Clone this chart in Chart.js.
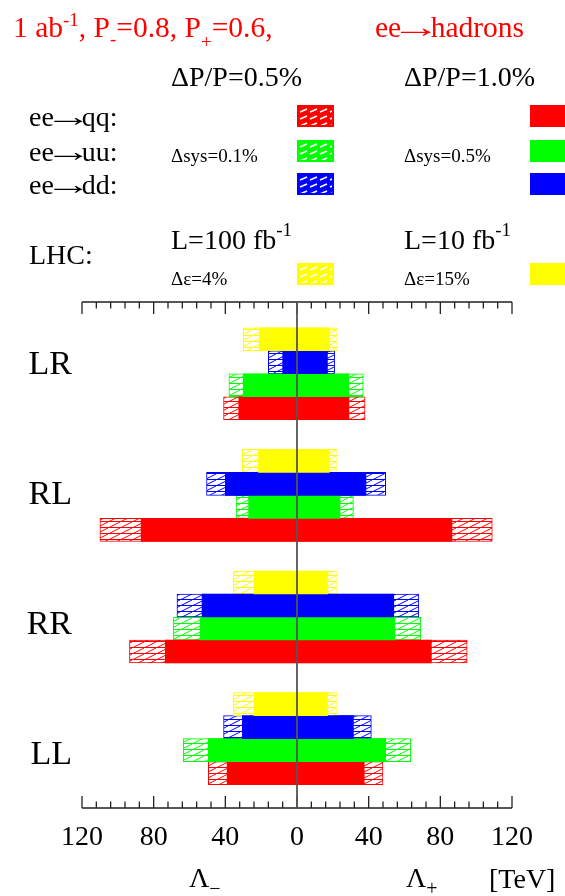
<!DOCTYPE html>
<html>
<head>
<meta charset="utf-8">
<title>Contact interaction reach</title>
<script src="https://cdn.jsdelivr.net/npm/chart.js@4.4.1/dist/chart.umd.min.js"></script>
<style>
    html, body { margin: 0; padding: 0; background: #fff; }
    #wrap { position: relative; width: 565px; height: 896px; overflow: hidden;
            font-family: "Liberation Serif", "Times New Roman", serif; }
    #wrap canvas { position: absolute; left: 0; top: 0; }
    .t { position: absolute; white-space: nowrap; line-height: 1; color: #000; }
    .big { font-size: 28px; }
    .title { font-size: 29.5px; }
    .small { font-size: 19px; }
    .red { color: #f00; }
    .up, .dn { position: relative; font-size: 19px; }
    .arr { display: inline-block; transform: scaleX(1.7); }
    .sw { position: absolute; box-sizing: border-box; width: 37px; height: 22px; }
</style>
</head>
<body>
<div id="wrap">
    <canvas id="chart" width="565" height="896"></canvas>

    <div class="t title red" style="left:13px; top:13px">1 ab<span class="up" style="top:-11px">-1</span>, P<span class="dn" style="top:8px">-</span>=0.8, P<span class="dn" style="top:11px">+</span>=0.6,</div>
    <div class="t title red" style="left:375px; top:13px">ee<span class="arr">→</span>hadrons</div>

    <div class="t big" style="left:171px; top:62.5px">ΔP/P=0.5%</div>
    <div class="t big" style="left:404px; top:62.5px">ΔP/P=1.0%</div>

    <div class="t big" style="left:29px; top:102.5px">ee<span class="arr">→</span>qq:</div>
    <div class="t big" style="left:29px; top:137.5px">ee<span class="arr">→</span>uu:</div>
    <div class="t big" style="left:29px; top:171px">ee<span class="arr">→</span>dd:</div>
    <div class="t small" style="left:171px; top:146px">Δsys=0.1%</div>
    <div class="t small" style="left:404px; top:146px">Δsys=0.5%</div>

    <div class="t big" style="left:29px; top:240.5px">LHC:</div>
    <div class="t big" style="left:171px; top:226px">L=100 fb<span class="up" style="top:-13px">-1</span></div>
    <div class="t big" style="left:404px; top:226px">L=10 fb<span class="up" style="top:-13px">-1</span></div>
    <div class="t small" style="left:171px; top:268.5px">Δε=4%</div>
    <div class="t small" style="left:404px; top:268.5px">Δε=15%</div>

    <div class="t big" style="left:189px; top:863.5px">Λ<span class="dn" style="top:8px; font-size:20px">−</span></div>
    <div class="t big" style="left:406px; top:863.5px">Λ<span class="dn" style="top:8px; font-size:20px">+</span></div>
    <div class="t big" style="left:489px; top:864.5px">[TeV]</div>

    <div id="swatches"></div>
</div>

<script>
// Helicity combinations, top to bottom
const groups = ['LR', 'RL', 'RR', 'LL'];

// Reach in TeV: Minus = Λ- (left side), Plus = Λ+ (right side)
// ee->qq, ee->uu, ee->dd: "10" = ΔP/P=1.0% (solid), "05" = ΔP/P=0.5% (hatched)
// LHC: "10" = L=10 fb-1 (solid), "100" = L=100 fb-1 (hatched)
const lhcMinus10 = [21, 21.5, 24, 24];
const lhcPlus10 = [18, 18, 17, 17];
const lhcMinus100 = [30, 30.5, 35.5, 35.5];
const lhcPlus100 = [22.5, 22.5, 22.5, 22.5];

const ddMinus10 = [8, 40, 53, 30.5];
const ddPlus10 = [17, 38.5, 54, 31.5];
const ddMinus05 = [16, 50.5, 67, 41];
const ddPlus05 = [21, 49.5, 68, 41.5];

const uuMinus10 = [30, 27, 54, 49.5];
const uuPlus10 = [29, 24, 54.5, 49.5];
const uuMinus05 = [38, 34, 69, 63.5];
const uuPlus05 = [37, 31.5, 69, 63.5];

const qqMinus10 = [32.5, 87, 73.5, 39];
const qqPlus10 = [29, 86.5, 75, 37.5];
const qqMinus05 = [41, 110, 93.5, 49.5];
const qqPlus05 = [38, 109, 95, 48];

// Axis ticks
const majorTicks = [-120, -80, -40, 0, 40, 80, 120];
const minorStep = 8;

const colors = { lhc: '#ffff00', dd: '#0000ff', uu: '#00ff00', qq: '#ff0000' };

// Make a hatch tile: white with thin slanted lines
function hatchTile(color, w, h) {
    const c = document.createElement('canvas');
    c.width = w; c.height = h;
    const g = c.getContext('2d');
    g.fillStyle = '#fff';
    g.fillRect(0, 0, w, h);
    g.strokeStyle = color;
    g.lineWidth = 1;
    g.beginPath();
    g.moveTo(0, h - 0.5); g.lineTo(w, h - 0.5);
    g.moveTo(0, h); g.lineTo(w, 0);
    g.moveTo(-w, h); g.lineTo(0, 0);
    g.moveTo(w, h); g.lineTo(2 * w, 0);
    g.stroke();
    return c;
}

// Denser tile for the legend boxes
function legendTile(color) {
    const c = document.createElement('canvas');
    c.width = 10; c.height = 7;
    const g = c.getContext('2d');
    g.fillStyle = color;
    g.fillRect(0, 0, 10, 7);
    g.strokeStyle = '#fff';
    g.lineWidth = 1.6;
    g.beginPath();
    g.moveTo(1, 5); g.lineTo(8, 2);
    g.stroke();
    return c;
}

function hatch(color) {
    const ctx = document.getElementById('chart').getContext('2d');
    return ctx.createPattern(hatchTile(color, 12, 6), 'repeat');
}

// Turn the two arrays into floating bars [-Λ-, Λ+] per group
function bars(minus, plus) {
    return groups.map((g, i) => ({ y: i, x: [-minus[i], plus[i]] }));
}

function solidSet(name, minus, plus) {
    return {
        label: name, stack: name, data: bars(minus, plus),
        backgroundColor: colors[name], borderWidth: 0
    };
}

function hatchSet(name, minus, plus) {
    return {
        label: name + ' hatched', stack: name, data: bars(minus, plus),
        backgroundColor: hatch(colors[name]), borderColor: colors[name],
        borderWidth: 1, borderSkipped: false
    };
}

// Legend swatches (hatched column and solid column)
const swatchRows = [['qq', 105], ['uu', 139.5], ['dd', 173], ['lhc', 263]];
const swDiv = document.getElementById('swatches');
swatchRows.forEach(([name, top]) => {
    const h = document.createElement('div');
    h.className = 'sw';
    h.style.left = '297px'; h.style.top = top + 'px';
    h.style.border = '2px solid ' + colors[name];
    h.style.backgroundImage = 'url(' + legendTile(colors[name]).toDataURL() + ')';
    swDiv.appendChild(h);
    const s = document.createElement('div');
    s.className = 'sw';
    s.style.left = '530px'; s.style.top = top + 'px';
    s.style.background = colors[name];
    swDiv.appendChild(s);
});

// Frame: top and bottom axes with inward ticks, plus the line at zero
const framePlugin = {
    id: 'frame',
    afterDatasetsDraw(chart) {
        const { ctx, chartArea: a, scales: { x } } = chart;
        ctx.save();
        ctx.strokeStyle = '#222';
        ctx.lineWidth = 1.3;
        const left = x.getPixelForValue(majorTicks[0]);
        const right = x.getPixelForValue(majorTicks[majorTicks.length - 1]);
        ctx.beginPath();
        ctx.moveTo(left, a.top); ctx.lineTo(right, a.top);
        ctx.moveTo(left, a.bottom); ctx.lineTo(right, a.bottom);
        for (let v = majorTicks[0]; v <= majorTicks[majorTicks.length - 1]; v += minorStep) {
            const px = x.getPixelForValue(v);
            const len = majorTicks.includes(v) ? 12 : 6.5;
            ctx.moveTo(px, a.top); ctx.lineTo(px, a.top + len);
            ctx.moveTo(px, a.bottom); ctx.lineTo(px, a.bottom - len);
        }
        ctx.stroke();

        // line at zero, drawn over the bars
        ctx.strokeStyle = '#555';
        ctx.lineWidth = 1.8;
        const x0 = x.getPixelForValue(0);
        ctx.beginPath();
        ctx.moveTo(x0, a.top); ctx.lineTo(x0, a.bottom);
        ctx.stroke();
        ctx.restore();
    }
};

const serif = '"Liberation Serif", "Times New Roman", serif';

const ctx = document.getElementById('chart').getContext('2d');
const reachChart = new Chart(ctx, {
    type: 'bar',
    data: {
        datasets: [
            solidSet('lhc', lhcMinus10, lhcPlus10),
            solidSet('dd', ddMinus10, ddPlus10),
            solidSet('uu', uuMinus10, uuPlus10),
            solidSet('qq', qqMinus10, qqPlus10),
            hatchSet('lhc', lhcMinus100, lhcPlus100),
            hatchSet('dd', ddMinus05, ddPlus05),
            hatchSet('uu', uuMinus05, uuPlus05),
            hatchSet('qq', qqMinus05, qqPlus05)
        ]
    },
    options: {
        indexAxis: 'y',
        responsive: false,
        animation: false,
        barThickness: 23,
        layout: { padding: { top: 302, right: 53, bottom: 0, left: 0 } },
        plugins: {
            legend: { display: false },
            tooltip: { enabled: false }
        },
        scales: {
            x: {
                type: 'linear',
                position: 'bottom',
                min: -120,
                max: 120,
                stacked: false,
                afterBuildTicks: scale => { scale.ticks = majorTicks.map(v => ({ value: v })); },
                afterFit: scale => { scale.height = 88; },
                grid: { display: false, drawTicks: false },
                border: { display: false },
                ticks: {
                    padding: 13,
                    color: '#000',
                    font: { family: serif, size: 28 },
                    callback: value => Math.abs(value)
                }
            },
            y: {
                type: 'linear',
                position: 'left',
                reverse: true,
                offset: false,
                min: -0.59,
                max: 3.57,
                display: false,
                afterBuildTicks: scale => { scale.ticks = groups.map((g, i) => ({ value: i })); }
            },
            groupLabels: {
                type: 'linear',
                position: 'left',
                reverse: true,
                offset: false,
                min: -0.49,
                max: 3.41,
                afterBuildTicks: scale => { scale.ticks = groups.map((g, i) => ({ value: i })); },
                afterFit: scale => { scale.width = 82; },
                grid: { display: false, drawTicks: false },
                border: { display: false },
                ticks: {
                    padding: 10,
                    color: '#000',
                    font: { family: serif, size: 34 },
                    callback: value => groups[value]
                }
            }
        }
    },
    plugins: [framePlugin]
});
</script>
</body>
</html>
